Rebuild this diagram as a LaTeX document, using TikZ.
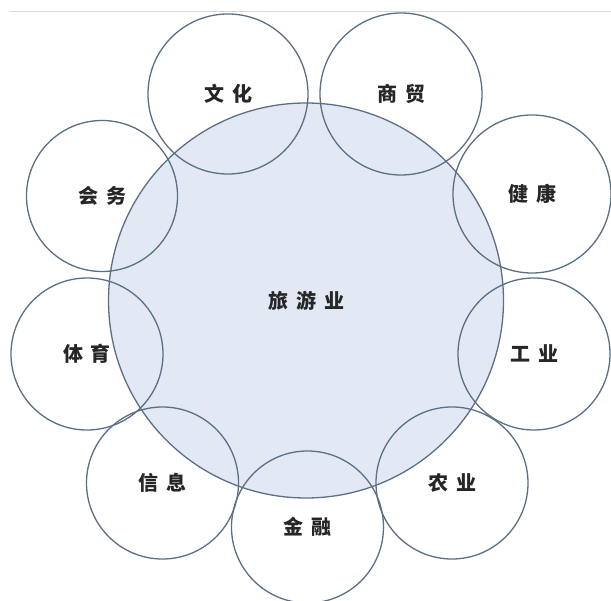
\documentclass[tikz,border=0pt]{standalone}
\usepackage{fontspec}
\newfontfamily\cjk{Noto Sans CJK SC}
\definecolor{ringline}{HTML}{5C6F84}
\definecolor{hubfill}{HTML}{E2E9F5}
\definecolor{labeltext}{HTML}{262626}
\definecolor{topline}{HTML}{D8D8D8}
\tikzset{
  ring/.style={circle, draw=ringline, line width=1.3pt, inner sep=0pt,
    text=labeltext, font=\cjk\bfseries\fontsize{20}{20}\selectfont},
  hub/.style={ring, fill=hubfill},
}
\newcommand{\gap}{\hspace{8pt}}
\begin{document}
\begin{tikzpicture}[x=1pt, y=-1pt]
\useasboundingbox (0,0) rectangle (611,601);
\fill[white] (0,0) rectangle (611,601);
\coordinate (tl) at (10,12);
\coordinate (tr) at (611,12);
\draw[topline, line width=1pt] (tl) -- (tr);
\node[hub, minimum size=395pt] (lvyou) at (306,300.5) {旅\gap 游\gap 业};
\node[ring, minimum size=160pt] (wenhua) at (228,94) {文\gap 化};
\node[ring, minimum size=162pt] (shangmao) at (401,94) {商\gap 贸};
\node[ring, minimum size=151pt] (huiwu) at (102,196) {会\gap 务};
\node[ring, minimum size=158pt] (jiankang) at (532,194) {健\gap 康};
\node[ring, minimum size=152pt] (tiyu) at (87,354) {体\gap 育};
\node[ring, minimum size=152pt] (gongye) at (534,354) {工\gap 业};
\node[ring, minimum size=152pt] (xinxi) at (162.5,483) {信\gap 息};
\node[ring, minimum size=152pt] (jinrong) at (307.5,527) {金\gap 融};
\node[ring, minimum size=152pt] (nongye) at (452,483) {农\gap 业};
\end{tikzpicture}
\end{document}
